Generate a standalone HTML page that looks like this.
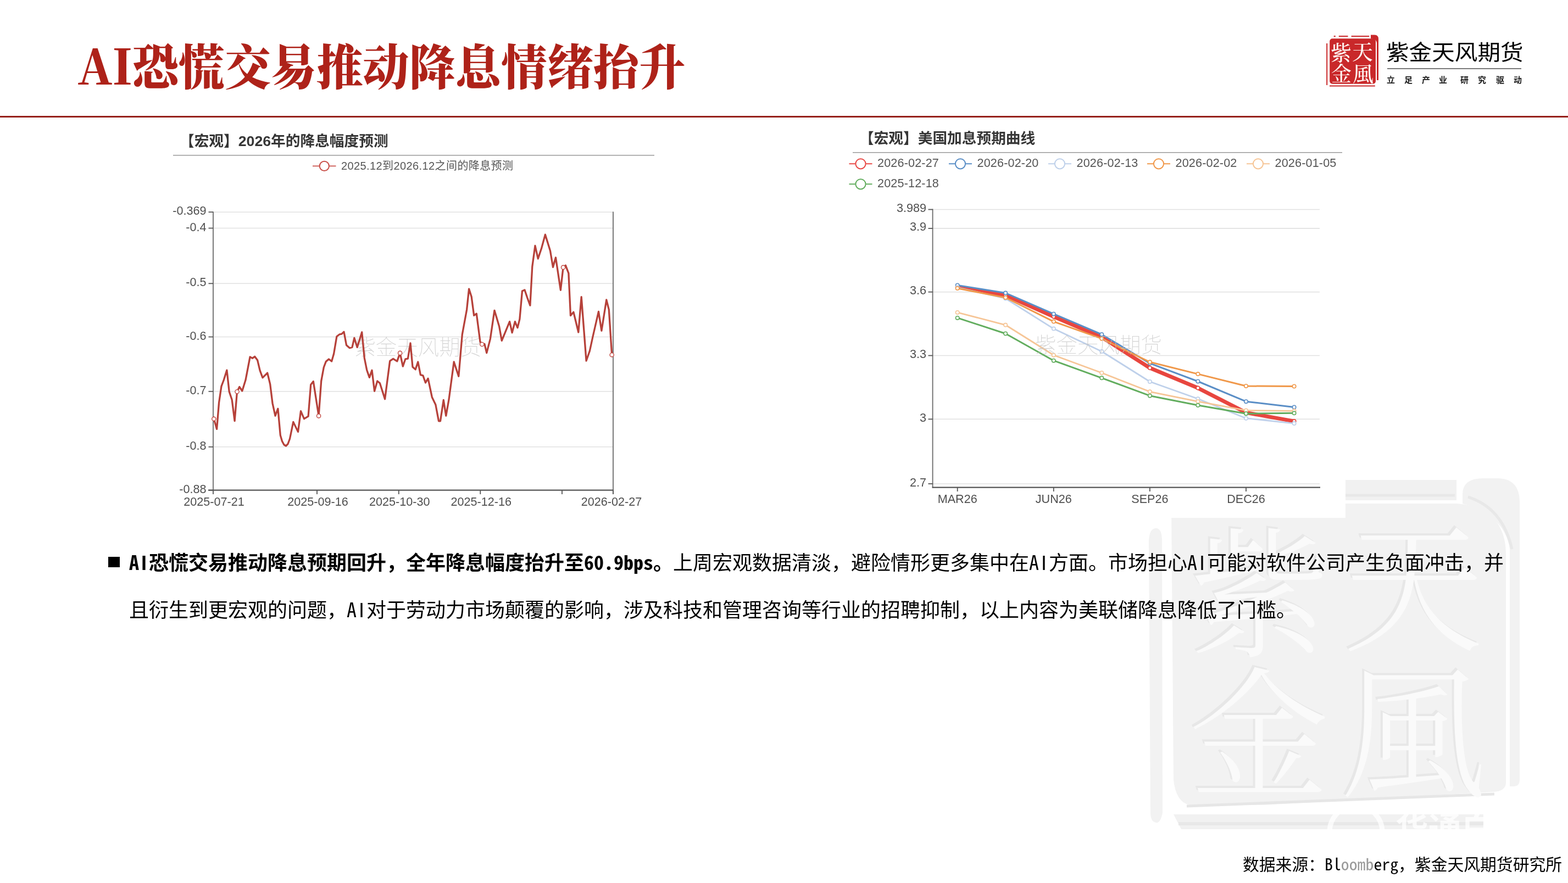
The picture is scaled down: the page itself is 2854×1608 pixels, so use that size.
<!DOCTYPE html>
<html lang="zh-CN">
<head>
<meta charset="utf-8">
<title>AI恐慌交易推动降息情绪抬升</title>
<style>
html,body{margin:0;padding:0;background:#fff;}
body{width:2854px;height:1608px;position:relative;overflow:hidden;}
.abs{position:absolute;}
.title{position:absolute;left:141px;top:56px;transform:scaleX(0.953);transform-origin:0 0;font-family:"Noto Serif CJK SC","Liberation Serif",serif;font-weight:900;font-size:88px;line-height:120px;color:#ae2219;white-space:nowrap;letter-spacing:0;}
.rule{position:absolute;left:0;top:211px;width:2854px;height:3px;background:#96201a;}
.brand{position:absolute;left:2523px;top:64px;transform:scaleY(0.94);transform-origin:0 0;font-family:"Noto Sans CJK SC",sans-serif;font-weight:400;font-size:41.6px;line-height:60px;color:#000;white-space:nowrap;}
.bline{position:absolute;left:2525px;top:124px;width:244px;height:1.5px;background:#7a7a7a;}
.slogan span{position:absolute;top:134px;font-family:"Noto Sans CJK SC",sans-serif;font-weight:700;font-size:15px;line-height:22px;color:#1a1a1a;}
.chart{filter:blur(0.45px);}
.chart text{font-family:"Liberation Sans","Noto Sans CJK SC",sans-serif;}
.ct{font-size:26.7px;font-weight:700;fill:#363636;}
.lg{font-size:21px;fill:#555;}
.ax{font-size:21.6px;fill:#4f4f4f;}
.chart text.wm{font-size:38.5px;fill:#c4c4c4;fill-opacity:0.75;font-weight:100;font-family:"Noto Sans CJK SC",sans-serif;}
.body{position:absolute;left:235px;font-family:"Noto Sans Mono CJK SC","Noto Sans CJK SC",monospace;font-size:36px;line-height:50px;color:#000;white-space:nowrap;}
.body b{font-weight:700;}
.ii{display:inline-block;width:18px;text-align:center;font-family:"Liberation Sans",sans-serif;}
.bullet{position:absolute;left:197px;top:1014px;width:21px;height:19px;background:#000;}
.src{position:absolute;left:2262px;top:1550px;font-family:"Noto Sans Mono CJK SC","Noto Sans CJK SC",monospace;font-size:29.8px;line-height:44px;color:#000;white-space:nowrap;}
</style>
</head>
<body>
<!-- watermark seal -->
<svg class="abs" style="left:2080px;top:860px" width="700" height="680" viewBox="2080 860 700 680">
  <rect x="2095" y="874" width="556" height="37" fill="#f1f1f1"/>
  <path d="M2095 902 L2648 902" stroke="#e8e8e8" stroke-width="5"/>
  <path d="M2662 917 L2662 900 Q2662 871 2700 871 L2725 871 Q2766 871 2766 915 L2766 1420 Q2766 1432 2755 1432 L2748 1432 L2748 1000 Q2740 940 2662 917 Z" fill="#f2f2f2"/>
  <path d="M2672 905 Q2735 925 2752 1000" stroke="#e8e8e8" stroke-width="5" fill="none"/>
  <path d="M2132 917 L2652 917 Q2741 925 2741 1010 L2741 1425 Q2741 1440 2720 1442 L2300 1466 L2165 1466 Q2140 1460 2136 1420 Z" fill="#f2f2f2"/>
  <path d="M2160 1468 L2720 1446" stroke="#e6e6e6" stroke-width="5" fill="none"/>
  <path d="M2091 985 Q2092 962 2104 962 Q2115 962 2115 985 L2116 1480 Q2112 1500 2104 1498 Q2094 1496 2094 1480 Z" fill="#f2f2f2"/>
  <path d="M2136 1483 L2700 1483 L2700 1510 L2150 1510 Z" fill="#f1f1f1"/>
  <path d="M2145 1500 L2700 1500" stroke="#e8e8e8" stroke-width="6" fill="none"/>
  <g style="font-family:'Noto Serif CJK SC',serif;font-weight:300">
    <g fill="#e7e7e7" transform="translate(-4,-4)">
      <text x="2165" y="1175" font-size="255">紫</text>
      <text x="2445" y="1165" font-size="255">天</text>
      <text x="2165" y="1430" font-size="255">金</text>
      <text x="2440" y="1432" font-size="265">風</text>
    </g>
    <g fill="#fafafa">
      <text x="2165" y="1175" font-size="255">紫</text>
      <text x="2445" y="1165" font-size="255">天</text>
      <text x="2165" y="1430" font-size="255">金</text>
      <text x="2440" y="1432" font-size="265">風</text>
    </g>
  </g>
  <g fill="#ffffff" fill-opacity="0.75">
    <circle cx="2468" cy="1515" r="48" fill="none" stroke="#fff" stroke-opacity="0.75" stroke-width="9"/>
    <text x="2540" y="1531" style="font-family:'Noto Sans CJK SC',sans-serif;font-size:60px;font-weight:700">华通白银网</text>
  </g>
</svg>

<div class="title">AI恐慌交易推动降息情绪抬升</div>

<!-- logo -->
<svg class="abs" style="left:2410px;top:58px" width="104" height="106" viewBox="2410 58 104 106">
  <rect x="2420.2" y="70.2" width="83.8" height="82.6" rx="5" fill="#c9282a"/>
  <path d="M2427.7 66 L2430.8 66 M2436.8 66 L2453.5 66 M2459.6 66 L2492.2 66" stroke="#c9282a" stroke-width="1.8"/>
  <path d="M2495 63.5 L2502 63.5 Q2509 63.5 2509 71 L2509 146 L2506 146 L2506 78 Q2505 71 2497 70.5 L2495 70.5 Z" fill="#c9282a"/>
  <path d="M2415.2 79 L2415.2 155" stroke="#c9282a" stroke-width="2" fill="none"/>
  <path d="M2420 156.6 L2502.8 156.6" stroke="#c9282a" stroke-width="2" fill="none"/>
  <g style="font-family:'Noto Serif CJK SC',serif;font-weight:500" fill="#fff6f2">
    <text x="2422" y="110" font-size="38">紫</text>
    <text x="2461" y="108" font-size="38">天</text>
    <text x="2423" y="148" font-size="37">金</text>
    <text x="2462" y="148" font-size="38">風</text>
  </g>
</svg>
<div class="brand">紫金天风期货</div>
<div class="bline"></div>
<div class="slogan">
<span style="left:2524px">立</span><span style="left:2556px">足</span><span style="left:2588px">产</span><span style="left:2619px">业</span>
<span style="left:2658px">研</span><span style="left:2690px">究</span><span style="left:2723px">驱</span><span style="left:2755px">动</span>
</div>

<div class="rule"></div>

<svg class="abs chart" style="left:0;top:0" width="1250" height="960" viewBox="0 0 1250 960">
<text x="327" y="266" class="ct">【宏观】2026年的降息幅度预测</text>
<line x1="315" y1="282.7" x2="1191" y2="282.7" stroke="#9a9a9a" stroke-width="1.6"/>
<line x1="569" y1="302.4" x2="611.5" y2="302.4" stroke="#c9504a" stroke-width="1.8"/>
<circle cx="590.3" cy="302.4" r="8.6" fill="#fff" stroke="#c9504a" stroke-width="2"/>
<text x="621" y="309" class="lg" style="font-size:20px;letter-spacing:0.4px">2025.12到2026.12之间的降息预测</text>
<line x1="388" y1="386.2" x2="1115.5" y2="386.2" stroke="#e1e1e1" stroke-width="1.6"/>
<line x1="388" y1="415.5" x2="1115.5" y2="415.5" stroke="#e1e1e1" stroke-width="1.6"/>
<line x1="388" y1="516.3" x2="1115.5" y2="516.3" stroke="#e1e1e1" stroke-width="1.6"/>
<line x1="388" y1="613.5" x2="1115.5" y2="613.5" stroke="#e1e1e1" stroke-width="1.6"/>
<line x1="388" y1="712.8" x2="1115.5" y2="712.8" stroke="#e1e1e1" stroke-width="1.6"/>
<line x1="388" y1="813.8" x2="1115.5" y2="813.8" stroke="#e1e1e1" stroke-width="1.6"/>
<text x="760.7" y="646" class="wm" text-anchor="middle">紫金天风期货</text>
<line x1="388" y1="385.5" x2="388" y2="893" stroke="#6a6a6a" stroke-width="1.8"/>
<line x1="1116" y1="385.5" x2="1116" y2="900" stroke="#6a6a6a" stroke-width="1.8"/>
<line x1="379" y1="892.7" x2="1116.8" y2="892.7" stroke="#555" stroke-width="2.2"/>
<line x1="379.5" y1="386.2" x2="388" y2="386.2" stroke="#555" stroke-width="1.8"/>
<text x="375.5" y="391.2" class="ax" text-anchor="end">-0.369</text>
<line x1="379.5" y1="415.5" x2="388" y2="415.5" stroke="#555" stroke-width="1.8"/>
<text x="375.5" y="420.5" class="ax" text-anchor="end">-0.4</text>
<line x1="379.5" y1="516.3" x2="388" y2="516.3" stroke="#555" stroke-width="1.8"/>
<text x="375.5" y="521.3" class="ax" text-anchor="end">-0.5</text>
<line x1="379.5" y1="613.5" x2="388" y2="613.5" stroke="#555" stroke-width="1.8"/>
<text x="375.5" y="618.5" class="ax" text-anchor="end">-0.6</text>
<line x1="379.5" y1="712.8" x2="388" y2="712.8" stroke="#555" stroke-width="1.8"/>
<text x="375.5" y="717.8" class="ax" text-anchor="end">-0.7</text>
<line x1="379.5" y1="813.8" x2="388" y2="813.8" stroke="#555" stroke-width="1.8"/>
<text x="375.5" y="818.8" class="ax" text-anchor="end">-0.8</text>
<line x1="379.5" y1="892.7" x2="388" y2="892.7" stroke="#555" stroke-width="1.8"/>
<text x="375.5" y="897.7" class="ax" text-anchor="end">-0.88</text>
<line x1="388" y1="892.7" x2="388" y2="900" stroke="#555" stroke-width="1.8"/>
<text x="389.5" y="921" class="ax" text-anchor="middle">2025-07-21</text>
<line x1="577" y1="892.7" x2="577" y2="900" stroke="#555" stroke-width="1.8"/>
<text x="578.5" y="921" class="ax" text-anchor="middle">2025-09-16</text>
<line x1="725.8" y1="892.7" x2="725.8" y2="900" stroke="#555" stroke-width="1.8"/>
<text x="727.3" y="921" class="ax" text-anchor="middle">2025-10-30</text>
<line x1="874.3" y1="892.7" x2="874.3" y2="900" stroke="#555" stroke-width="1.8"/>
<text x="875.8" y="921" class="ax" text-anchor="middle">2025-12-16</text>
<line x1="1023" y1="892.7" x2="1023" y2="900" stroke="#555" stroke-width="1.8"/>
<line x1="1116" y1="892.7" x2="1116" y2="900" stroke="#555" stroke-width="1.8"/>
<text x="1113" y="921" class="ax" text-anchor="middle">2026-02-27</text>
<path d="M389.3 762.8 L394.6 781.4 L398.6 733 L403 703.3 L407.3 692 L412.9 674.1 L417.2 713.2 L422.2 728.1 L427.1 766.6 L431.5 713.2 L435.8 704.5 L440.8 712 L447 692.1 L455.1 649.9 L459.4 652.4 L463.7 649.3 L468.7 656.1 L473.1 674.7 L478 687.8 L486.7 679.1 L491.7 699.6 L496 734.3 L501 757.2 L505.9 744.2 L510.3 792.6 L513.5 803.5 L517 810 L520.5 812 L524 808.5 L527.5 799 L530 787 L533.8 768.4 L542.5 786.4 L547.5 748.6 L553.5 762.7 L561.1 758.1 L565.7 700.5 L570.3 694.6 L580.1 757.4 L584.7 693.9 L589.3 669 L593.2 658.6 L598.4 654 L603.7 657.9 L607.6 644.2 L612.9 612.7 L618.1 608.8 L622 608.2 L626 604.2 L630.5 628.4 L636.4 633.7 L641 632.4 L644.9 615.4 L650.2 632.4 L658.7 604.9 L663.3 652 L667.8 674.3 L672.4 687.4 L677 674.3 L681.6 712.3 L686.8 693.9 L691.4 697.8 L700.6 726.7 L709.7 657.3 L715.6 653.3 L722.8 657.9 L728.1 642.9 L733.3 667.1 L737.9 653.8 L742.4 653.1 L747 625 L751 668.2 L756.2 672.8 L760.8 659 L765.4 682.6 L769.9 683.9 L774.5 697 L779.1 689.2 L786.3 723.2 L792.9 737 L798.5 766.8 L801.5 766.8 L807.3 728.4 L811.8 757.2 L817.1 727.1 L826.2 659 L834.8 685.2 L841.3 609.3 L849.6 564 L853.6 526.1 L858.2 540.5 L862.7 574.5 L867.3 571.2 L874 622.4 L877.3 627 L881.9 626.3 L885.8 642.7 L892.4 617.1 L900 565.3 L908.6 594.2 L913.3 620.4 L927.6 585.6 L932.1 605.9 L937.4 585.6 L942 596.8 L945.9 581.1 L950.5 530 L955 528 L959.6 541.8 L964.9 556.2 L968.8 485.5 L974 447.5 L979.3 471.1 L985.8 451.4 L992.4 427.2 L1001.5 456.7 L1006.5 486.5 L1011.5 469 L1020.4 528.3 L1025.1 486.9 L1029.5 483.3 L1034.9 497.6 L1038.5 574.6 L1043.9 568.3 L1052.8 605 L1058.2 540.6 L1067.1 657 L1073.4 639 L1078.8 614 L1089.5 567.4 L1094.9 602.3 L1103.8 546 L1108.3 563.9 L1113.7 646.2" fill="none" stroke="#b6413a" stroke-width="3.3" stroke-linejoin="round"/>
<circle cx="389.3" cy="762.8" r="3.6" fill="#fff" stroke="#c0463f" stroke-width="1.4"/>
<circle cx="431.5" cy="713.2" r="3.6" fill="#fff" stroke="#c0463f" stroke-width="1.4"/>
<circle cx="580.1" cy="757.4" r="3.6" fill="#fff" stroke="#c0463f" stroke-width="1.4"/>
<circle cx="728.1" cy="642.9" r="3.6" fill="#fff" stroke="#c0463f" stroke-width="1.4"/>
<circle cx="877.3" cy="627" r="3.6" fill="#fff" stroke="#c0463f" stroke-width="1.4"/>
<circle cx="1025.1" cy="486.9" r="3.6" fill="#fff" stroke="#c0463f" stroke-width="1.4"/>
<circle cx="1113.7" cy="646.2" r="3.6" fill="#fff" stroke="#c0463f" stroke-width="1.4"/>
</svg>

<div class="abs" style="left:1520px;top:216px;width:929px;height:727px;background:#fff"></div>
<svg class="abs chart" style="left:1500px;top:200px" width="960" height="760" viewBox="1500 200 960 760">
<text x="1564" y="261" class="ct">【宏观】美国加息预期曲线</text>
<line x1="1552" y1="277.8" x2="2443" y2="277.8" stroke="#9a9a9a" stroke-width="1.6"/>
<line x1="1545.5" y1="298.3" x2="1587.5" y2="298.3" stroke="#e84a47" stroke-width="2"/>
<circle cx="1566.5" cy="298.3" r="9.1" fill="#fff" stroke="#e84a47" stroke-width="2"/>
<text x="1597" y="303.8" class="lg" style="font-size:21.6px;letter-spacing:0.15px">2026-02-27</text>
<line x1="1727" y1="298.3" x2="1769" y2="298.3" stroke="#5a8ec6" stroke-width="2"/>
<circle cx="1748" cy="298.3" r="9.1" fill="#fff" stroke="#5a8ec6" stroke-width="2"/>
<text x="1778.5" y="303.8" class="lg" style="font-size:21.6px;letter-spacing:0.15px">2026-02-20</text>
<line x1="1908" y1="298.3" x2="1950" y2="298.3" stroke="#bed0ea" stroke-width="2"/>
<circle cx="1929" cy="298.3" r="9.1" fill="#fff" stroke="#bed0ea" stroke-width="2"/>
<text x="1959.5" y="303.8" class="lg" style="font-size:21.6px;letter-spacing:0.15px">2026-02-13</text>
<line x1="2088" y1="298.3" x2="2130" y2="298.3" stroke="#f0984a" stroke-width="2"/>
<circle cx="2109" cy="298.3" r="9.1" fill="#fff" stroke="#f0984a" stroke-width="2"/>
<text x="2139.5" y="303.8" class="lg" style="font-size:21.6px;letter-spacing:0.15px">2026-02-02</text>
<line x1="2269" y1="298.3" x2="2311" y2="298.3" stroke="#f6c596" stroke-width="2"/>
<circle cx="2290" cy="298.3" r="9.1" fill="#fff" stroke="#f6c596" stroke-width="2"/>
<text x="2320.5" y="303.8" class="lg" style="font-size:21.6px;letter-spacing:0.15px">2026-01-05</text>
<line x1="1545.5" y1="335.3" x2="1587.5" y2="335.3" stroke="#62ad5e" stroke-width="2"/>
<circle cx="1566.5" cy="335.3" r="9.1" fill="#fff" stroke="#62ad5e" stroke-width="2"/>
<text x="1597" y="340.8" class="lg" style="font-size:21.6px;letter-spacing:0.15px">2025-12-18</text>
<line x1="1697.6" y1="381.5" x2="2402" y2="381.5" stroke="#e1e1e1" stroke-width="1.6"/>
<line x1="1697.6" y1="415.9" x2="2402" y2="415.9" stroke="#e1e1e1" stroke-width="1.6"/>
<line x1="1697.6" y1="531.7" x2="2402" y2="531.7" stroke="#e1e1e1" stroke-width="1.6"/>
<line x1="1697.6" y1="647.5" x2="2402" y2="647.5" stroke="#e1e1e1" stroke-width="1.6"/>
<line x1="1697.6" y1="763.3" x2="2402" y2="763.3" stroke="#e1e1e1" stroke-width="1.6"/>
<line x1="1697.6" y1="881" x2="2402" y2="881" stroke="#e1e1e1" stroke-width="1.6"/>
<line x1="1697.6" y1="380.6" x2="1697.6" y2="888.5" stroke="#6a6a6a" stroke-width="1.8"/>
<line x1="1696.7" y1="887.7" x2="2403" y2="887.7" stroke="#555" stroke-width="2.2"/>
<line x1="1689.5" y1="381.5" x2="1697.6" y2="381.5" stroke="#555" stroke-width="1.8"/>
<text x="1686" y="386" class="ax" text-anchor="end">3.989</text>
<line x1="1689.5" y1="415.9" x2="1697.6" y2="415.9" stroke="#555" stroke-width="1.8"/>
<text x="1686" y="420.4" class="ax" text-anchor="end">3.9</text>
<line x1="1689.5" y1="531.7" x2="1697.6" y2="531.7" stroke="#555" stroke-width="1.8"/>
<text x="1686" y="536.2" class="ax" text-anchor="end">3.6</text>
<line x1="1689.5" y1="647.5" x2="1697.6" y2="647.5" stroke="#555" stroke-width="1.8"/>
<text x="1686" y="652" class="ax" text-anchor="end">3.3</text>
<line x1="1689.5" y1="763.3" x2="1697.6" y2="763.3" stroke="#555" stroke-width="1.8"/>
<text x="1686" y="767.8" class="ax" text-anchor="end">3</text>
<line x1="1689.5" y1="881" x2="1697.6" y2="881" stroke="#555" stroke-width="1.8"/>
<text x="1686" y="885.5" class="ax" text-anchor="end">2.7</text>
<line x1="1742.7" y1="887.7" x2="1742.7" y2="895" stroke="#555" stroke-width="1.8"/>
<text x="1742.7" y="915.5" class="ax" text-anchor="middle">MAR26</text>
<line x1="1917.8" y1="887.7" x2="1917.8" y2="895" stroke="#555" stroke-width="1.8"/>
<text x="1917.8" y="915.5" class="ax" text-anchor="middle">JUN26</text>
<line x1="2092.9" y1="887.7" x2="2092.9" y2="895" stroke="#555" stroke-width="1.8"/>
<text x="2092.9" y="915.5" class="ax" text-anchor="middle">SEP26</text>
<line x1="2268" y1="887.7" x2="2268" y2="895" stroke="#555" stroke-width="1.8"/>
<text x="2268" y="915.5" class="ax" text-anchor="middle">DEC26</text>
<path d="M1742.7 522.4 L1830.2 537.6 L1917.8 576.5 L2005.3 614 L2092.9 670 L2180.4 706.6 L2268 751.4 L2355.6 767.1" fill="none" stroke="#e8463f" stroke-width="7.0" stroke-linejoin="round"/>
<circle cx="1742.7" cy="522.4" r="3.2" fill="#fff" stroke="#e8463f" stroke-width="1.6"/>
<circle cx="1830.2" cy="537.6" r="3.2" fill="#fff" stroke="#e8463f" stroke-width="1.6"/>
<circle cx="1917.8" cy="576.5" r="3.2" fill="#fff" stroke="#e8463f" stroke-width="1.6"/>
<circle cx="2005.3" cy="614" r="3.2" fill="#fff" stroke="#e8463f" stroke-width="1.6"/>
<circle cx="2092.9" cy="670" r="3.2" fill="#fff" stroke="#e8463f" stroke-width="1.6"/>
<circle cx="2180.4" cy="706.6" r="3.2" fill="#fff" stroke="#e8463f" stroke-width="1.6"/>
<circle cx="2268" cy="751.4" r="3.2" fill="#fff" stroke="#e8463f" stroke-width="1.6"/>
<circle cx="2355.6" cy="767.1" r="3.2" fill="#fff" stroke="#e8463f" stroke-width="1.6"/>
<path d="M1742.7 519.5 L1830.2 533.6 L1917.8 571.7 L2005.3 609 L2092.9 661.7 L2180.4 694.5 L2268 731.2 L2355.6 741.5" fill="none" stroke="#5a8ec6" stroke-width="3.0" stroke-linejoin="round"/>
<circle cx="1742.7" cy="519.5" r="3.2" fill="#fff" stroke="#5a8ec6" stroke-width="1.6"/>
<circle cx="1830.2" cy="533.6" r="3.2" fill="#fff" stroke="#5a8ec6" stroke-width="1.6"/>
<circle cx="1917.8" cy="571.7" r="3.2" fill="#fff" stroke="#5a8ec6" stroke-width="1.6"/>
<circle cx="2005.3" cy="609" r="3.2" fill="#fff" stroke="#5a8ec6" stroke-width="1.6"/>
<circle cx="2092.9" cy="661.7" r="3.2" fill="#fff" stroke="#5a8ec6" stroke-width="1.6"/>
<circle cx="2180.4" cy="694.5" r="3.2" fill="#fff" stroke="#5a8ec6" stroke-width="1.6"/>
<circle cx="2268" cy="731.2" r="3.2" fill="#fff" stroke="#5a8ec6" stroke-width="1.6"/>
<circle cx="2355.6" cy="741.5" r="3.2" fill="#fff" stroke="#5a8ec6" stroke-width="1.6"/>
<path d="M1742.7 523.5 L1830.2 543.5 L1917.8 598.6 L2005.3 640 L2092.9 695 L2180.4 726.3 L2268 761.7 L2355.6 771.1" fill="none" stroke="#bed0ea" stroke-width="2.8" stroke-linejoin="round"/>
<circle cx="1742.7" cy="523.5" r="3.2" fill="#fff" stroke="#bed0ea" stroke-width="1.6"/>
<circle cx="1830.2" cy="543.5" r="3.2" fill="#fff" stroke="#bed0ea" stroke-width="1.6"/>
<circle cx="1917.8" cy="598.6" r="3.2" fill="#fff" stroke="#bed0ea" stroke-width="1.6"/>
<circle cx="2005.3" cy="640" r="3.2" fill="#fff" stroke="#bed0ea" stroke-width="1.6"/>
<circle cx="2092.9" cy="695" r="3.2" fill="#fff" stroke="#bed0ea" stroke-width="1.6"/>
<circle cx="2180.4" cy="726.3" r="3.2" fill="#fff" stroke="#bed0ea" stroke-width="1.6"/>
<circle cx="2268" cy="761.7" r="3.2" fill="#fff" stroke="#bed0ea" stroke-width="1.6"/>
<circle cx="2355.6" cy="771.1" r="3.2" fill="#fff" stroke="#bed0ea" stroke-width="1.6"/>
<path d="M1742.7 525 L1830.2 542 L1917.8 585.6 L2005.3 616.7 L2092.9 659.3 L2180.4 681.1 L2268 703 L2355.6 703.5" fill="none" stroke="#f0984a" stroke-width="3.0" stroke-linejoin="round"/>
<circle cx="1742.7" cy="525" r="3.2" fill="#fff" stroke="#f0984a" stroke-width="1.6"/>
<circle cx="1830.2" cy="542" r="3.2" fill="#fff" stroke="#f0984a" stroke-width="1.6"/>
<circle cx="1917.8" cy="585.6" r="3.2" fill="#fff" stroke="#f0984a" stroke-width="1.6"/>
<circle cx="2005.3" cy="616.7" r="3.2" fill="#fff" stroke="#f0984a" stroke-width="1.6"/>
<circle cx="2092.9" cy="659.3" r="3.2" fill="#fff" stroke="#f0984a" stroke-width="1.6"/>
<circle cx="2180.4" cy="681.1" r="3.2" fill="#fff" stroke="#f0984a" stroke-width="1.6"/>
<circle cx="2268" cy="703" r="3.2" fill="#fff" stroke="#f0984a" stroke-width="1.6"/>
<circle cx="2355.6" cy="703.5" r="3.2" fill="#fff" stroke="#f0984a" stroke-width="1.6"/>
<path d="M1742.7 569 L1830.2 591.8 L1917.8 646.7 L2005.3 679 L2092.9 713.3 L2180.4 731.2 L2268 747.4 L2355.6 748.3" fill="none" stroke="#f6c596" stroke-width="2.8" stroke-linejoin="round"/>
<circle cx="1742.7" cy="569" r="3.2" fill="#fff" stroke="#f6c596" stroke-width="1.6"/>
<circle cx="1830.2" cy="591.8" r="3.2" fill="#fff" stroke="#f6c596" stroke-width="1.6"/>
<circle cx="1917.8" cy="646.7" r="3.2" fill="#fff" stroke="#f6c596" stroke-width="1.6"/>
<circle cx="2005.3" cy="679" r="3.2" fill="#fff" stroke="#f6c596" stroke-width="1.6"/>
<circle cx="2092.9" cy="713.3" r="3.2" fill="#fff" stroke="#f6c596" stroke-width="1.6"/>
<circle cx="2180.4" cy="731.2" r="3.2" fill="#fff" stroke="#f6c596" stroke-width="1.6"/>
<circle cx="2268" cy="747.4" r="3.2" fill="#fff" stroke="#f6c596" stroke-width="1.6"/>
<circle cx="2355.6" cy="748.3" r="3.2" fill="#fff" stroke="#f6c596" stroke-width="1.6"/>
<path d="M1742.7 578.9 L1830.2 607.5 L1917.8 656.7 L2005.3 688.3 L2092.9 720.7 L2180.4 738 L2268 753.2 L2355.6 752.3" fill="none" stroke="#62ad5e" stroke-width="3.0" stroke-linejoin="round"/>
<circle cx="1742.7" cy="578.9" r="3.2" fill="#fff" stroke="#62ad5e" stroke-width="1.6"/>
<circle cx="1830.2" cy="607.5" r="3.2" fill="#fff" stroke="#62ad5e" stroke-width="1.6"/>
<circle cx="1917.8" cy="656.7" r="3.2" fill="#fff" stroke="#62ad5e" stroke-width="1.6"/>
<circle cx="2005.3" cy="688.3" r="3.2" fill="#fff" stroke="#62ad5e" stroke-width="1.6"/>
<circle cx="2092.9" cy="720.7" r="3.2" fill="#fff" stroke="#62ad5e" stroke-width="1.6"/>
<circle cx="2180.4" cy="738" r="3.2" fill="#fff" stroke="#62ad5e" stroke-width="1.6"/>
<circle cx="2268" cy="753.2" r="3.2" fill="#fff" stroke="#62ad5e" stroke-width="1.6"/>
<circle cx="2355.6" cy="752.3" r="3.2" fill="#fff" stroke="#62ad5e" stroke-width="1.6"/>
<text x="1999.5" y="642" class="wm" text-anchor="middle">紫金天风期货</text>
</svg>

<div class="bullet"></div>
<div class="body" style="top:997px"><b>A<span class="ii">I</span>恐慌交易推动降息预期回升，全年降息幅度抬升至60.9bps。</b>上周宏观数据清淡，避险情形更多集中在A<span class="ii">I</span>方面。市场担心A<span class="ii">I</span>可能对软件公司产生负面冲击，并</div>
<div class="body" style="top:1083px">且衍生到更宏观的问题，A<span class="ii">I</span>对于劳动力市场颠覆的影响，涉及科技和管理咨询等行业的招聘抑制，以上内容为美联储降息降低了门槛。</div>

<div class="src">数据来源：Bl<span style="color:#9a9a9a">oomb</span>erg，紫金天风期货研究所</div>
</body>
</html>
